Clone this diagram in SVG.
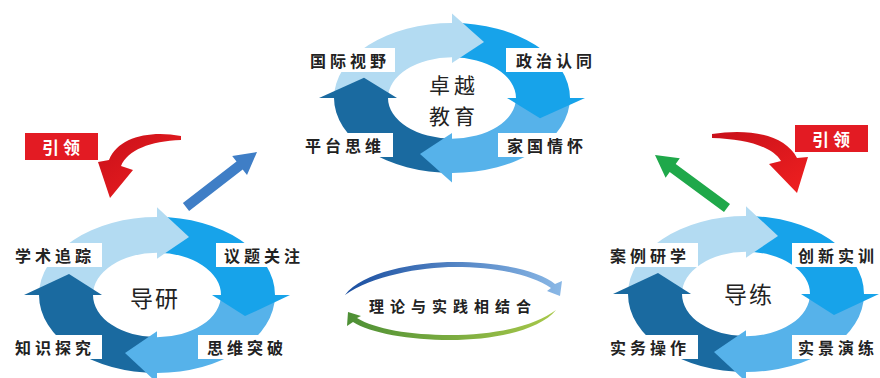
<svg xmlns="http://www.w3.org/2000/svg" xmlns:xlink="http://www.w3.org/1999/xlink" width="880" height="378" viewBox="0 0 880 378">
<style>
.lbl{font-family:"Noto Sans CJK SC","Noto Sans",sans-serif;font-size:16px;font-weight:bold;fill:#222;letter-spacing:4px;text-anchor:middle;dominant-baseline:central}
.ctr{font-family:"Noto Sans CJK SC","Noto Sans",sans-serif;font-size:23px;fill:#222;letter-spacing:2px;text-anchor:middle;dominant-baseline:central}
.ctr2{font-family:"Noto Sans CJK SC","Noto Sans",sans-serif;font-size:21px;fill:#222;letter-spacing:4px;text-anchor:middle;dominant-baseline:central}
.box{fill:#fff}
.tag{fill:#e31b23}
.tagt{font-family:"Noto Sans CJK SC","Noto Sans",sans-serif;font-size:17px;font-weight:bold;fill:#fff;letter-spacing:4px;text-anchor:middle;dominant-baseline:central}
.mid{font-family:"Noto Sans CJK SC","Noto Sans",sans-serif;font-size:15px;font-weight:bold;fill:#222;letter-spacing:6px;text-anchor:middle;dominant-baseline:central}
</style>
<defs>
<linearGradient id="gRed" x1="0" y1="0" x2="1" y2="1"><stop offset="0" stop-color="#c8101a"/><stop offset="1" stop-color="#f02020"/></linearGradient>
<linearGradient id="gBlueArc" x1="0" y1="0" x2="1" y2="0"><stop offset="0" stop-color="#1a4ea0"/><stop offset="1" stop-color="#8ab8e6"/></linearGradient>
<linearGradient id="gGreenArc" x1="0" y1="0" x2="1" y2="0"><stop offset="0" stop-color="#4d8f35"/><stop offset="1" stop-color="#a8c84a"/></linearGradient>
<g id="ring">
<path fill="#b3dbf2" d="M-118,0 A118,118 0 0 1 0,-118 L0,-64 A64,64 0 0 0 -64,0 Z"/>
<path fill="#17a3ea" d="M0,-118 A118,118 0 0 1 118,0 L64,0 A64,64 0 0 0 0,-64 Z"/>
<path fill="#56b2ea" d="M118,0 A118,118 0 0 1 0,118 L0,64 A64,64 0 0 0 64,0 Z"/>
<path fill="#1a6aa0" d="M0,118 A118,118 0 0 1 -118,0 L-64,0 A64,64 0 0 0 0,64 Z"/>
<polygon fill="#b3dbf2" points="0,-55 0,-133 32,-88"/>
<polygon fill="#17a3ea" points="55,0 133,0 88,32"/>
<polygon fill="#56b2ea" points="0,55 0,133 -32,88"/>
<polygon fill="#1a6aa0" points="-55,0 -133,0 -88,-32"/>
</g>
</defs>

<g id="connectors">
<path id="lead-left" fill="url(#gRed)" d="M181,136 C150,130 118,137 109,160 L98,162 L110,198 L133,170 L121,166 C128,150 150,141 181,140 Z"/>
<path id="lead-right" fill="url(#gRed)" d="M712,134 C750,128 785,135 797,158 L808,157 L797,193 L769,164 L781,161 C772,146 745,139 712,138 Z"/>
<polygon id="up-left" fill="#3f7ec6" points="182.9,203 236.5,161.5 232.2,156 257,152 247,175 242.7,169.5 189.1,211"/>
<polygon id="up-right" fill="#1fa84a" points="724,212 669.7,172 665.6,177.7 655,155 679.8,158.3 675.7,164 730,204"/>
</g>

<g id="tag-left"><rect class="tag" x="25" y="133" width="73" height="27"/><text class="tagt" x="63" y="146.5">引领</text></g>
<g id="tag-right"><rect class="tag" x="795" y="125" width="73" height="27"/><text class="tagt" x="833" y="138.5">引领</text></g>

<g id="node-top">
<use xlink:href="#ring" transform="translate(452,98) scale(1,0.635)"/>
<rect class="box" x="303" y="48" width="92" height="24"/><text class="lbl" x="350" y="60">国际视野</text>
<rect class="box" x="506" y="48" width="96" height="24"/><text class="lbl" x="556" y="60">政治认同</text>
<rect class="box" x="295" y="133" width="98" height="24"/><text class="lbl" x="345" y="145">平台思维</text>
<rect class="box" x="498" y="133" width="96" height="24"/><text class="lbl" x="547" y="145">家国情怀</text>
<text class="ctr2" x="454" y="84">卓越<tspan x="454" dy="30.5">教育</tspan></text>
</g>

<g id="node-left">
<use xlink:href="#ring" transform="translate(157,295) scale(1,0.66)"/>
<rect class="box" x="6" y="243" width="96" height="24"/><text class="lbl" x="55" y="255">学术追踪</text>
<rect class="box" x="216" y="243" width="96" height="24"/><text class="lbl" x="264" y="255">议题关注</text>
<rect class="box" x="6" y="335" width="96" height="24"/><text class="lbl" x="55" y="347">知识探究</text>
<rect class="box" x="198" y="335" width="96" height="24"/><text class="lbl" x="247" y="347">思维突破</text>
<text class="ctr" x="155" y="297">导研</text>
</g>

<g id="node-right">
<use xlink:href="#ring" transform="translate(746,294) scale(1,0.66)"/>
<rect class="box" x="602" y="243" width="96" height="24"/><text class="lbl" x="650" y="255">案例研学</text>
<rect class="box" x="792" y="243" width="88" height="24"/><text class="lbl" x="838" y="255">创新实训</text>
<rect class="box" x="602" y="335" width="96" height="24"/><text class="lbl" x="650" y="347">实务操作</text>
<rect class="box" x="792" y="335" width="88" height="24"/><text class="lbl" x="838" y="347">实景演练</text>
<text class="ctr" x="749" y="293">导练</text>
</g>

<g id="node-middle">
<path fill="url(#gBlueArc)" d="M345,295 C362,272 415,262 455,262 C500,262 540,271 555,284 L562,281 L560,296 L547,291 L551,288 C530,274 495,267 455,267 C420,267 372,276 345,295 Z"/>
<path fill="url(#gGreenArc)" d="M556,310 C540,330 495,340 450,340 C410,340 370,333 353,322 L347,326 L348,312 L361,316 L357,318 C375,329 410,335 450,335 C495,335 535,326 556,310 Z"/>
<text class="mid" x="453" y="305">理论与实践相结合</text>
</g>
</svg>
